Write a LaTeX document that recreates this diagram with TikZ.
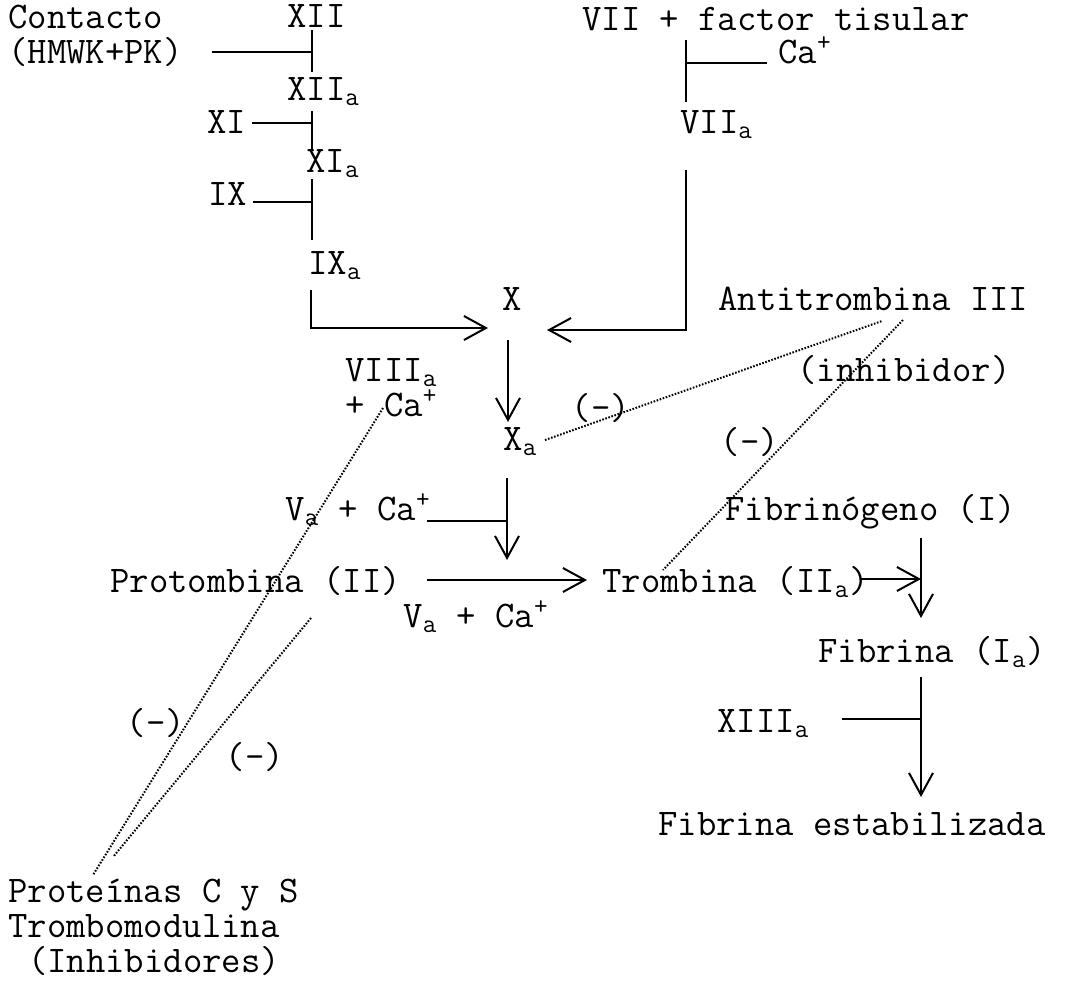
\documentclass[tikz,border=0pt]{standalone}
\usepackage{tikz}
\usetikzlibrary{arrows.meta}

\begin{document}
\begin{tikzpicture}[x=0.5pt,y=-0.5pt,
  txt/.style={font=\fontsize{18.8}{17.5}\ttfamily\selectfont, inner sep=0pt, anchor=base west},
  menos/.style={font=\fontsize{18.8}{17.5}\ttfamily\selectfont, inner sep=0pt},
  linea/.style={line width=1pt},
  flecha/.style={line width=1pt, -{Straight Barb[length=11pt,width=12pt]}},
  punteado/.style={line width=1pt, dash pattern=on 0.8pt off 0.8pt}]
  \useasboundingbox (0,0) rectangle (1066,985);

  % via intrinseca
  \node[txt, align=left] (contacto) at (8,63) {Contacto\\(HMWK+PK)};
  \node[txt] (xii) at (287,27) {XII};
  \node[txt] (xiia) at (287,100) {XII\textsubscript{a}};
  \node[txt] (xi) at (207,133) {XI};
  \node[txt] (xia) at (306,172) {XI\textsubscript{a}};
  \node[txt] (ix) at (208,205) {IX};
  \node[txt] (ixa) at (308,274) {IX\textsubscript{a}};

  % via extrinseca
  \node[txt] (vii) at (582,30) {VII + factor tisular};
  \node[txt] (ca) at (778,63) {Ca\textsuperscript{+}};
  \node[txt] (viia) at (680,133) {VII\textsubscript{a}};

  % via comun
  \node[txt] (x) at (502,310) {X};
  \node[txt] (antitrombina) at (718,310) {Antitrombina III};
  \node[txt] (inhib) at (797,381) {(inhibidor)};
  \node[txt, align=left] (viiia) at (345,416) {VIII\textsubscript{a}\\+ Ca\textsuperscript{+}};
  \node[txt] (xa) at (503,450) {X\textsubscript{a}};
  \node[txt] (vaca) at (285,520) {V\textsubscript{a} + Ca\textsuperscript{+}};
  \node[txt] (fibrinogeno) at (725,520) {Fibrinógeno (I)};
  \node[txt] (protrombina) at (110,592) {Protombina (II)};
  \node[txt] (trombina) at (602,592) {Trombina (II\textsubscript{a})};
  \node[txt] (vacab) at (403,627) {V\textsubscript{a} + Ca\textsuperscript{+}};
  \node[txt] (fibrina) at (818,662) {Fibrina (I\textsubscript{a})};
  \node[txt] (xiiia) at (717,732) {XIII\textsubscript{a}};
  \node[txt] (estab) at (658,835) {Fibrina estabilizada};
  \node[txt, align=left] (proteinas) at (8,972) {Proteínas C y S\\Trombomodulina\\\hspace*{0.525em}(Inhibidores)};

  % (-)
  \node[menos] (menosxa) at (601,408) {(-)};
  \node[menos] (menostr) at (750,442) {(-)};
  \node[menos] (menosa) at (156,723) {(-)};
  \node[menos] (menosb) at (255,757) {(-)};

  % puntos de las lineas
  \coordinate (c1) at (212,52);   \coordinate (c1v) at (312,52);
  \coordinate (v1a) at (312,30);  \coordinate (v1b) at (312,72);
  \coordinate (c2) at (252,123);  \coordinate (c2v) at (312,123);
  \coordinate (v2a) at (312,111); \coordinate (v2b) at (312,150);
  \coordinate (c3) at (253,202);  \coordinate (c3v) at (312,202);
  \coordinate (v3a) at (312,179); \coordinate (v3b) at (312,240);
  \coordinate (v4a) at (311,290); \coordinate (v4b) at (311,328);
  \coordinate (xizq) at (488,328);
  \coordinate (v5a) at (686,40);  \coordinate (v5b) at (686,102);
  \coordinate (c5v) at (686,63);  \coordinate (c5) at (767,63);
  \coordinate (v6a) at (686,170); \coordinate (v6b) at (686,330);
  \coordinate (xder) at (547,330);
  \coordinate (v7a) at (508,340); \coordinate (v7b) at (508,422);
  \coordinate (v8a) at (507,478); \coordinate (v8b) at (507,560);
  \coordinate (c8) at (427,521);  \coordinate (c8v) at (507,521);
  \coordinate (h9a) at (427,580); \coordinate (h9b) at (587,580);
  \coordinate (h10a) at (860,579); \coordinate (h10b) at (921,579);
  \coordinate (v11a) at (921,538); \coordinate (v11b) at (921,618);
  \coordinate (v12a) at (921,677); \coordinate (v12b) at (921,797);
  \coordinate (c12) at (842,719);  \coordinate (c12v) at (921,719);

  % lineas
  \draw[linea] (c1) -- (c1v);
  \draw[linea] (v1a) -- (v1b);
  \draw[linea] (c2) -- (c2v);
  \draw[linea] (v2a) -- (v2b);
  \draw[linea] (c3) -- (c3v);
  \draw[linea] (v3a) -- (v3b);
  \draw[flecha] (v4a) -- (v4b) -- (xizq);
  \draw[linea] (v5a) -- (v5b);
  \draw[linea] (c5v) -- (c5);
  \draw[flecha] (v6a) -- (v6b) -- (xder);
  \draw[flecha] (v7a) -- (v7b);
  \draw[flecha] (v8a) -- (v8b);
  \draw[linea] (c8) -- (c8v);
  \draw[flecha] (h9a) -- (h9b);
  \draw[flecha] (h10a) -- (h10b);
  \draw[flecha] (v11a) -- (v11b);
  \draw[flecha] (v12a) -- (v12b);
  \draw[linea] (c12) -- (c12v);

  % inhibiciones
  \coordinate (p1a) at (545,440); \coordinate (p1b) at (882,321);
  \coordinate (p2a) at (903,320); \coordinate (p2b) at (663,570);
  \coordinate (p3a) at (383,408); \coordinate (p3b) at (93,875);
  \coordinate (p4a) at (311,618); \coordinate (p4b) at (113,857);
  \draw[punteado] (p1a) -- (p1b);
  \draw[punteado] (p2a) -- (p2b);
  \draw[punteado] (p3a) -- (p3b);
  \draw[punteado] (p4a) -- (p4b);
\end{tikzpicture}
\end{document}
